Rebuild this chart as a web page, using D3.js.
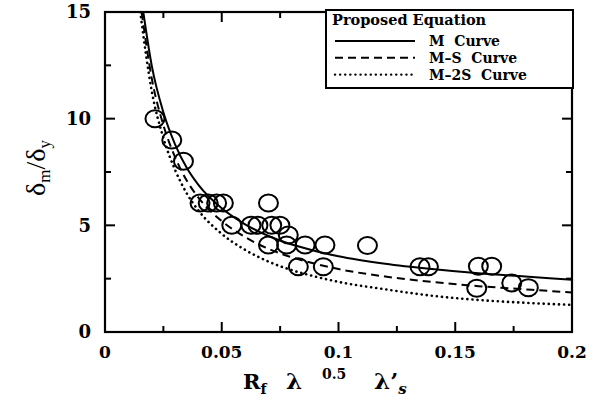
<!DOCTYPE html>
<html>
<head>
<meta charset="utf-8">
<style>
  body { margin: 0; background: #fff; }
  text { font-family: "DejaVu Serif", serif; fill: #000; }
</style>
<script src="https://cdn.jsdelivr.net/npm/d3@7"></script>
</head>
<body>
<script>
// observed points
var ptX = [0.0214, 0.0286, 0.0336, 0.0407, 0.0442, 0.0478, 0.0507, 0.0543, 0.0625, 0.0655,
           0.0700, 0.0714, 0.0749, 0.0785, 0.0700, 0.0778, 0.0857, 0.0942, 0.0828, 0.0935,
           0.1124, 0.1349, 0.1385, 0.1599, 0.1656, 0.1592, 0.1742, 0.1813];
var ptY = [10.0, 9.0, 8.0, 6.05, 6.05, 6.05, 6.05, 5.0, 5.0, 5.0,
           6.05, 5.0, 5.0, 4.55, 4.08, 4.08, 4.08, 4.08, 3.06, 3.06,
           4.05, 3.06, 3.06, 3.08, 3.08, 2.05, 2.3, 2.08];

// curves
var mX   = [0.0164, 0.02, 0.025, 0.03, 0.035, 0.04, 0.05, 0.06, 0.07, 0.08, 0.09, 0.1, 0.12, 0.14, 0.16, 0.18, 0.2];
var mY   = [15, 12.5, 10.3, 8.8, 7.7, 6.9, 5.8, 5.05, 4.5, 4.1, 3.8, 3.55, 3.2, 2.95, 2.75, 2.6, 2.45];
var msX  = [0.0157, 0.02, 0.025, 0.03, 0.035, 0.04, 0.05, 0.06, 0.07, 0.08, 0.09, 0.1, 0.12, 0.14, 0.16, 0.18, 0.2];
var msY  = [15, 11.9, 9.7, 8.2, 7.1, 6.3, 5.2, 4.45, 3.9, 3.5, 3.2, 2.95, 2.6, 2.35, 2.15, 2.0, 1.85];
var m2sX = [0.0151, 0.02, 0.025, 0.03, 0.035, 0.04, 0.05, 0.06, 0.07, 0.08, 0.09, 0.1, 0.12, 0.14, 0.16, 0.18, 0.2];
var m2sY = [15, 11.3, 9.1, 7.6, 6.5, 5.7, 4.6, 3.85, 3.3, 2.9, 2.6, 2.35, 2.0, 1.7, 1.5, 1.37, 1.27];

var xTicks = [0, 0.05, 0.1, 0.15, 0.2];
var xTickLabels = ["0", "0.05", "0.1", "0.15", "0.2"];
var yTicks = [0, 5, 10, 15];
var legendNames = ["M  Curve", "M\u2013S  Curve", "M\u20132S  Curve"];
var legendDash = ["none", "8,5", "0.1,5"];

var W = 595, H = 410;
var svg = d3.select("body").append("svg")
  .attr("width", W)
  .attr("height", H);

var x = d3.scaleLinear().domain([0, 0.2]).range([105, 572]);
var y = d3.scaleLinear().domain([0, 15]).range([332, 12]);

svg.append("clipPath").attr("id", "clip")
  .append("rect")
  .attr("x", 105).attr("y", 12)
  .attr("width", 467).attr("height", 320);

// ticks on all four sides, pointing in
var minorX = d3.range(0, 0.2001, 0.025);
var minorY = d3.range(0, 15.001, 2.5);
function isMajor(v, step) { return Math.abs(v / step - Math.round(v / step)) < 1e-6; }

var ax = svg.append("g").attr("stroke", "#000").attr("stroke-width", 2);
minorX.forEach(function(v) {
  var len = isMajor(v, 0.05) ? 10 : 6;
  ax.append("line").attr("x1", x(v)).attr("x2", x(v)).attr("y1", 332).attr("y2", 332 - len);
  ax.append("line").attr("x1", x(v)).attr("x2", x(v)).attr("y1", 12).attr("y2", 12 + len);
});
minorY.forEach(function(v) {
  var len = isMajor(v, 5) ? 10 : 6;
  ax.append("line").attr("y1", y(v)).attr("y2", y(v)).attr("x1", 105).attr("x2", 105 + len);
  ax.append("line").attr("y1", y(v)).attr("y2", y(v)).attr("x1", 572).attr("x2", 572 - len);
});

svg.append("rect")
  .attr("x", 105).attr("y", 12)
  .attr("width", 467).attr("height", 320)
  .attr("fill", "none")
  .attr("stroke", "#000")
  .attr("stroke-width", 2.2);

// tick labels
svg.selectAll(".xl").data(xTicks).enter().append("text")
  .attr("x", function(d) { return x(d); })
  .attr("y", 358)
  .attr("text-anchor", "middle")
  .attr("font-size", 17).attr("font-weight", "bold")
  .text(function(d, i) { return xTickLabels[i]; });

svg.selectAll(".yl").data(yTicks).enter().append("text")
  .attr("x", 91)
  .attr("y", function(d) { return y(d); })
  .attr("dy", "0.36em")
  .attr("text-anchor", "end")
  .attr("font-size", 18).attr("font-weight", "bold")
  .text(function(d) { return d; });

// curves
function curvePts(xs, ys) { return xs.map(function(v, i) { return [v, ys[i]]; }); }
var line = d3.line()
  .x(function(d) { return x(d[0]); })
  .y(function(d) { return y(d[1]); })
  .curve(d3.curveMonotoneX);

var curves = [curvePts(mX, mY), curvePts(msX, msY), curvePts(m2sX, m2sY)];
svg.append("g").attr("clip-path", "url(#clip)")
  .selectAll("path").data(curves).enter().append("path")
  .attr("d", line)
  .attr("fill", "none")
  .attr("stroke", "#000")
  .attr("stroke-width", function(d, i) { return i == 2 ? 2.6 : 2; })
  .attr("stroke-linecap", function(d, i) { return i == 2 ? "round" : "butt"; })
  .attr("stroke-dasharray", function(d, i) { return legendDash[i]; });

// points
svg.append("g").selectAll("ellipse").data(ptX).enter().append("ellipse")
  .attr("cx", function(d) { return x(d); })
  .attr("cy", function(d, i) { return y(ptY[i]); })
  .attr("rx", 9.5).attr("ry", 8.5)
  .attr("fill", "none")
  .attr("stroke", "#000")
  .attr("stroke-width", 2);

// legend
var lg = svg.append("g");
lg.append("rect")
  .attr("x", 326).attr("y", 10)
  .attr("width", 247).attr("height", 78)
  .attr("fill", "#fff")
  .attr("stroke", "#000").attr("stroke-width", 2);
lg.append("text")
  .attr("x", 332).attr("y", 25)
  .attr("font-size", 14.5).attr("font-weight", "bold")
  .text("Proposed Equation");
legendNames.forEach(function(name, i) {
  var ly = 41 + i * 16.8;
  lg.append("line")
    .attr("x1", 335).attr("x2", 415)
    .attr("y1", ly).attr("y2", ly)
    .attr("stroke", "#000")
    .attr("stroke-width", i == 2 ? 2.4 : 2)
    .attr("stroke-linecap", i == 2 ? "round" : "butt")
    .attr("stroke-dasharray", legendDash[i]);
  lg.append("text")
    .attr("x", 429).attr("y", ly + 5)
    .attr("font-size", 14).attr("font-weight", "bold")
    .style("white-space", "pre")
    .text(name);
});

// axis titles
var xt = svg.append("text")
  .attr("y", 389)
  .attr("font-size", 21).attr("font-weight", "bold")
  .style("white-space", "pre");
xt.append("tspan").attr("x", 243).text("R");
xt.append("tspan").attr("font-size", 14).attr("dy", 5).text("f");
xt.append("tspan").attr("x", 286).attr("dy", -5).attr("font-size", 23).text("\u03bb");
xt.append("tspan").attr("x", 322).attr("dy", -10).attr("font-size", 14).text("0.5");
xt.append("tspan").attr("x", 374).attr("dy", 10).attr("font-size", 23).text("\u03bb\u2019");
xt.append("tspan").attr("font-size", 15).attr("dy", 5).attr("font-style", "italic").text("s");

var yt = svg.append("text")
  .attr("transform", "translate(45,168) rotate(-90)")
  .attr("text-anchor", "middle")
  .style("font-family", "'Liberation Serif', serif")
  .attr("font-size", 28);
yt.append("tspan").text("\u03b4");
yt.append("tspan").attr("font-size", 17).attr("dy", 5).text("m");
yt.append("tspan").attr("dy", -5).text("/\u03b4");
yt.append("tspan").attr("font-size", 17).attr("dy", 5).text("y");
</script>
</body>
</html>
